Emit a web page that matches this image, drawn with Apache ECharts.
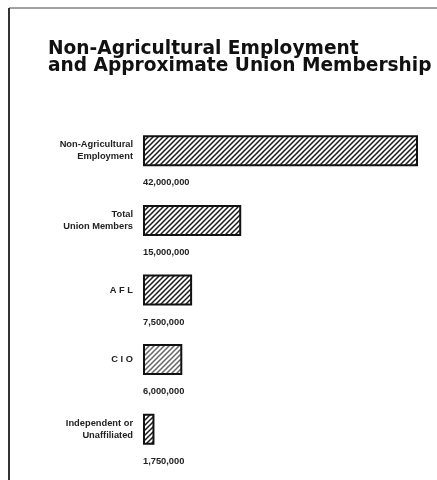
<!DOCTYPE html>
<html><head><meta charset="utf-8">
<script src="https://cdn.jsdelivr.net/npm/echarts@6/dist/echarts.min.js"></script>
<style>html,body{margin:0;padding:0;background:#fff}#c{width:437px;height:480px}</style>
</head><body><div id="c"></div>
<script>
const categories = ['Non-Agricultural\nEmployment', 'Total\nUnion Members', 'A F L', 'C I O', 'Independent or\nUnaffiliated'];
const values = [42000000, 15000000, 7500000, 6000000, 1750000];
const valueLabels = ['42,000,000', '15,000,000', '7,500,000', '6,000,000', '1,750,000'];

function hatch(color) {
  const s = 5;
  const cv = document.createElement('canvas');
  cv.width = s; cv.height = s;
  const ctx = cv.getContext('2d');
  ctx.fillStyle = '#fff'; ctx.fillRect(0, 0, s, s);
  ctx.strokeStyle = color; ctx.lineWidth = 1.5;
  ctx.beginPath();
  for (let k = -1; k <= 1; k++) {
    ctx.moveTo(k * s - 1, s + 1); ctx.lineTo(k * s + s + 1, -1);
  }
  ctx.stroke();
  return { image: cv, repeat: 'repeat' };
}

const small = "'Liberation Sans', Arial, sans-serif";
const chart = echarts.init(document.getElementById('c'), null, { renderer: 'canvas' });
chart.setOption({
  animation: false,
  title: {
    text: 'Non-Agricultural Employment\nand Approximate Union Membership',
    left: 48, top: 41, padding: 0,
    textStyle: { fontFamily: "'DejaVu Sans', sans-serif", fontWeight: 'bold', fontSize: 18.6, lineHeight: 17, color: '#111' }
  },
  graphic: [
    { type: 'line', shape: { x1: 9, y1: 8, x2: 437, y2: 8 }, style: { stroke: '#444', lineWidth: 1 } },
    { type: 'line', shape: { x1: 9, y1: 8, x2: 9, y2: 480 }, style: { stroke: '#333', lineWidth: 2 } }
  ],
  grid: { left: 143, right: 19, top: 116, bottom: 16 },
  xAxis: { type: 'value', min: 0, max: 42000000, show: false },
  yAxis: {
    type: 'category', data: categories, inverse: true,
    axisLine: { show: false }, axisTick: { show: false },
    axisLabel: { margin: 10, align: 'right', fontFamily: small, fontWeight: 'bold', fontSize: 9.3, lineHeight: 12, color: '#222' }
  },
  series: [{
    type: 'bar', barWidth: 31,
    data: values.map((v, i) => ({
      value: v,
      itemStyle: { color: hatch(i === 3 ? '#666' : '#1a1a1a'), borderColor: '#111', borderWidth: 2 },
      label: {
        show: true, position: [0, 43], align: 'left', verticalAlign: 'top',
        formatter: valueLabels[i], fontFamily: small, fontWeight: 'bold', fontSize: 9.3, color: '#222'
      }
    }))
  }]
});
</script></body></html>
